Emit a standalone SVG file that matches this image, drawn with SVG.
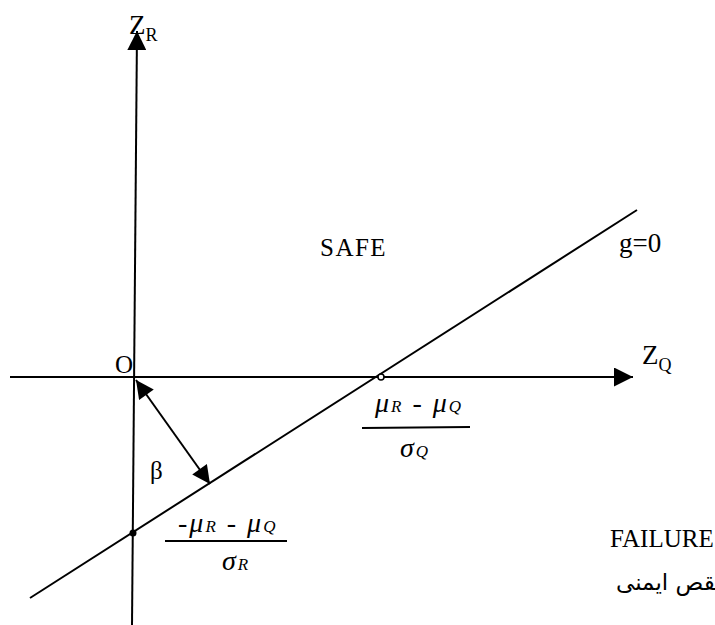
<svg xmlns="http://www.w3.org/2000/svg" width="715" height="625" viewBox="0 0 715 625">
<style>
.ln{stroke:#000;stroke-width:2;fill:none}
.t{font-family:"Liberation Serif","Times New Roman",serif;fill:#000}
.h{font-family:"Liberation Serif","Times New Roman",serif;font-style:italic;fill:#000;letter-spacing:2px}
</style>
<defs>
<marker id="ah" viewBox="0 0 10 10" refX="10" refY="5" markerUnits="userSpaceOnUse" markerWidth="20" markerHeight="19" orient="auto-start-reverse">
<path d="M0,0 L10,5 L0,10 z" fill="#000"/>
</marker>
<marker id="bh" viewBox="0 0 10 10" refX="10" refY="5" markerUnits="userSpaceOnUse" markerWidth="22" markerHeight="18" orient="auto-start-reverse">
<path d="M0,0 L10,5 L0,10 z" fill="#000"/>
</marker>
</defs>
<rect width="715" height="625" fill="#fff"/>
<g id="connectors">
<line class="ln" x1="132" y1="625" x2="137" y2="31" marker-end="url(#ah)"/>
<line class="ln" x1="10" y1="377" x2="633" y2="377" marker-end="url(#ah)"/>
<line class="ln" x1="30" y1="598" x2="637" y2="210"/>
<line class="ln" x1="136" y1="380" x2="210" y2="484" marker-start="url(#bh)" marker-end="url(#bh)"/>
<circle cx="381" cy="377" r="3" fill="#fff" stroke="#000" stroke-width="1.5"/>
<circle cx="133" cy="533" r="3.5" fill="#000"/>
</g>
<g id="axis-zr"><text class="t" x="129" y="34" font-size="27">Z<tspan font-size="18" dy="7">R</tspan></text></g>
<g id="axis-zq"><text class="t" x="642" y="364" font-size="27">Z<tspan font-size="18" dy="7">Q</tspan></text></g>
<g id="origin"><text class="t" x="115" y="373" font-size="25">O</text></g>
<g id="safe"><text class="t" x="320" y="256" font-size="25" letter-spacing="1.5">SAFE</text></g>
<g id="g0"><text class="t" x="619" y="252" font-size="27">g=0</text></g>
<g id="beta"><text class="t" x="150" y="479" font-size="25">β</text></g>
<g id="failure"><text class="t" x="610" y="547" font-size="25">FAILURE</text>
<text x="616" y="590" font-family="DejaVu Sans,sans-serif" font-size="23">نقص ایمنی</text></g>
<g id="frac1">
<text class="h" x="375" y="412" font-size="28">μ<tspan font-size="17">R</tspan> - μ<tspan font-size="17">Q</tspan></text>
<line x1="362" y1="428" x2="470" y2="427" stroke="#000" stroke-width="2"/>
<text class="h" x="400" y="457" font-size="28">σ<tspan font-size="17">Q</tspan></text>
</g>
<g id="frac2">
<text class="h" x="178" y="532" font-size="28">-μ<tspan font-size="17">R</tspan> - μ<tspan font-size="17">Q</tspan></text>
<line x1="165" y1="541" x2="287" y2="541" stroke="#000" stroke-width="2"/>
<text class="h" x="222" y="570" font-size="28">σ<tspan font-size="17">R</tspan></text>
</g>
</svg>
